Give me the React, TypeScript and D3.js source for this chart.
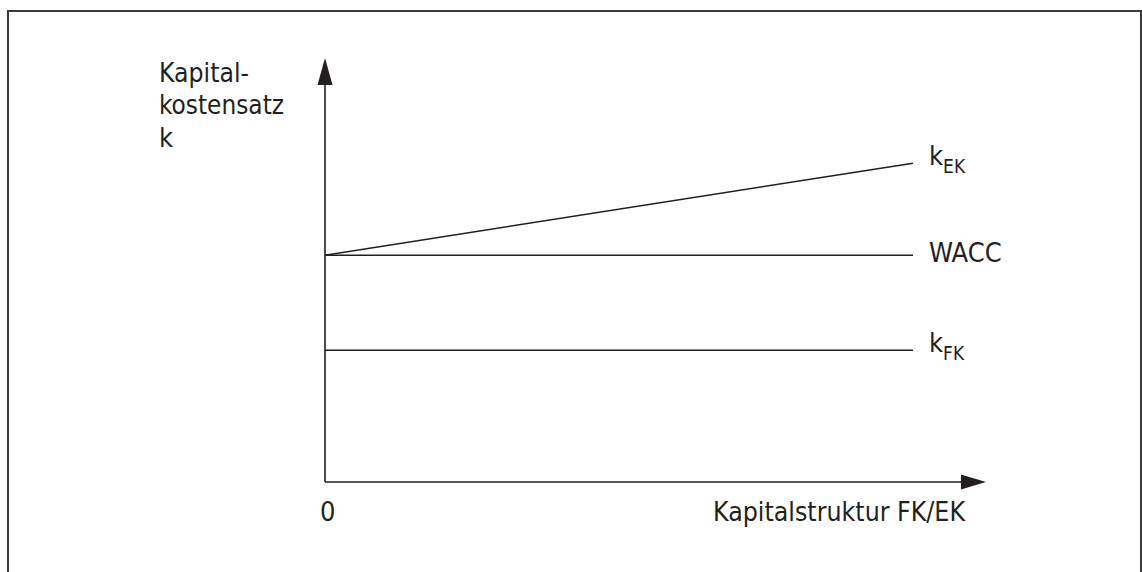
import React from "react";
import * as d3 from "d3";

const seriesNames = ["kEK", "WACC", "kFK"];
const seriesStart = [5.35, 5.35, 3.11];
const seriesEnd = [7.52, 5.35, 3.11];
const xLabel = "Kapitalstruktur FK/EK";
const yLabelLines = ["Kapital-", "kostensatz", "k"];
const originLabel = "0";

const W = 1142;
const H = 572;
const FONT = "'Liberation Sans Narrow', 'DejaVu Sans Condensed', 'Roboto', sans-serif";
const INK = "#231f20";

export default function App() {
  const x = d3.scaleLinear().domain([0, 1]).range([325, 913]);
  const y = d3.scaleLinear().domain([0, 10]).range([482, 58]);
  const x0 = x(0);
  const y0 = y(0);
  const xEnd = x(1.124);
  const yTop = y(10);
  const line = d3.line<[number, number]>().x((d) => x(d[0])).y((d) => y(d[1]));

  const labelFor = (name: string) => {
    if (name === "WACC") return <tspan>WACC</tspan>;
    const main = name.slice(0, 1);
    const sub = name.slice(1);
    return (
      <>
        <tspan>{main}</tspan>
        <tspan fontSize={19} dy={8}>{sub}</tspan>
      </>
    );
  };

  const yLabelWidths = [90, 125, 0];

  return (
    <svg
      width={W}
      height={H}
      style={{ position: "absolute", left: 0, top: 0, background: "#fff" }}
    >
      <rect x={8} y={11} width={1133} height={700} fill="none" stroke="#3a3a3a" strokeWidth={2} />
      {/* axes */}
      <line x1={x0} y1={y0} x2={x0} y2={yTop + 26} stroke={INK} strokeWidth={1.6} />
      <line x1={x0} y1={y0} x2={xEnd - 24} y2={y0} stroke={INK} strokeWidth={1.6} />
      <path
        d={`M${x0},${yTop} L${x0 - 7.5},${yTop + 27} L${x0 + 7.5},${yTop + 27} Z`}
        fill={INK}
      />
      <path
        d={`M${xEnd},${y0} L${xEnd - 25},${y0 - 7.5} L${xEnd - 25},${y0 + 7.5} Z`}
        fill={INK}
      />
      {/* series */}
      {seriesNames.map((n, i) => (
        <g key={n}>
          <path
            d={line([[0, seriesStart[i]], [1, seriesEnd[i]]]) || ""}
            fill="none"
            stroke={INK}
            strokeWidth={1.5}
          />
          <text
            x={x(1) + 16}
            y={y(seriesEnd[i]) + (n === "WACC" ? 7 : 2)}
            fontFamily={FONT}
            fontSize={27}
            fill={INK}
          >
            {labelFor(n)}
          </text>
        </g>
      ))}
      {/* labels */}
      {yLabelLines.map((t, i) => (
        <text
          key={t}
          x={159}
          y={81.5 + i * 32.6}
          fontFamily={FONT}
          fontSize={27}
          fill={INK}
          {...(yLabelWidths[i] ? { textLength: yLabelWidths[i], lengthAdjust: "spacingAndGlyphs" } : {})}
        >
          {t}
        </text>
      ))}
      <text x={x0 - 5} y={521} fontFamily={FONT} fontSize={27} fill={INK}>
        {originLabel}
      </text>
      <text
        x={713}
        y={521}
        fontFamily={FONT}
        fontSize={27}
        fill={INK}
        textLength={252}
        lengthAdjust="spacingAndGlyphs"
      >
        {xLabel}
      </text>
    </svg>
  );
}
